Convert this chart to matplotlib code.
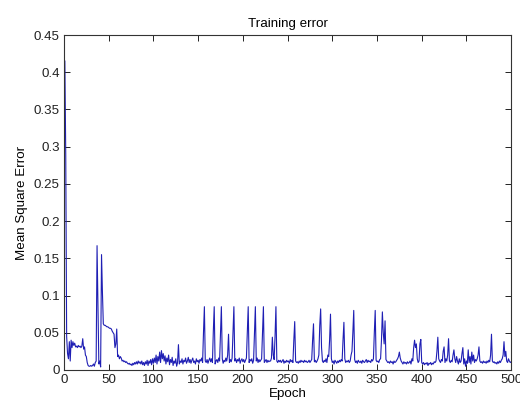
import numpy as np
import matplotlib
matplotlib.use('Agg')
import matplotlib.pyplot as plt

# training error per epoch (epochs 1..500)
mse = [
    0.415, 0.288, 0.045, 0.022, 0.015, 0.038, 0.012, 0.040, 0.030, 0.038,
    0.033, 0.036, 0.031, 0.032, 0.030, 0.033, 0.031, 0.032, 0.030, 0.032,
    0.042, 0.028, 0.031, 0.020, 0.018, 0.010, 0.006, 0.005, 0.005, 0.006,
    0.005, 0.006, 0.008, 0.005, 0.010, 0.012, 0.167, 0.085, 0.008, 0.012,
    0.004, 0.155, 0.105, 0.062, 0.060, 0.060, 0.059, 0.058, 0.058, 0.057,
    0.056, 0.056, 0.055, 0.052, 0.050, 0.048, 0.030, 0.035, 0.055, 0.018,
    0.020, 0.015, 0.018, 0.016, 0.012, 0.013, 0.011, 0.012, 0.010, 0.011,
    0.009, 0.008, 0.009, 0.007, 0.008, 0.006, 0.009, 0.007, 0.010, 0.008,
    0.011, 0.008, 0.012, 0.009, 0.011, 0.008, 0.012, 0.007, 0.010, 0.006,
    0.011, 0.008, 0.013, 0.006, 0.012, 0.009, 0.014, 0.007, 0.015, 0.009,
    0.016, 0.010, 0.020, 0.008, 0.018, 0.012, 0.024, 0.010, 0.026, 0.015,
    0.022, 0.012, 0.019, 0.008, 0.016, 0.011, 0.020, 0.007, 0.014, 0.010,
    0.017, 0.006, 0.012, 0.009, 0.015, 0.005, 0.010, 0.034, 0.008, 0.012,
    0.010, 0.015, 0.008, 0.013, 0.011, 0.016, 0.009, 0.012, 0.017, 0.010,
    0.014, 0.009, 0.013, 0.016, 0.010, 0.012, 0.008, 0.015, 0.011, 0.013,
    0.009, 0.014, 0.012, 0.016, 0.010, 0.050, 0.085, 0.012, 0.010, 0.014,
    0.009, 0.013, 0.016, 0.011, 0.015, 0.010, 0.052, 0.085, 0.008, 0.012,
    0.014, 0.010, 0.016, 0.012, 0.050, 0.085, 0.015, 0.009, 0.013, 0.011,
    0.016, 0.012, 0.020, 0.048, 0.010, 0.014, 0.011, 0.016, 0.050, 0.085,
    0.012, 0.015, 0.010, 0.014, 0.012, 0.016, 0.009, 0.013, 0.015, 0.011,
    0.014, 0.010, 0.013, 0.016, 0.050, 0.085, 0.010, 0.014, 0.012, 0.015,
    0.009, 0.013, 0.050, 0.085, 0.012, 0.016, 0.010, 0.014, 0.011, 0.013,
    0.015, 0.050, 0.085, 0.010, 0.012, 0.014, 0.010, 0.013, 0.011, 0.012,
    0.012, 0.016, 0.044, 0.020, 0.014, 0.045, 0.085, 0.012, 0.010, 0.013,
    0.011, 0.013, 0.010, 0.012, 0.014, 0.009, 0.012, 0.010, 0.013, 0.011,
    0.012, 0.009, 0.014, 0.011, 0.013, 0.010, 0.040, 0.065, 0.012, 0.010,
    0.011, 0.009, 0.012, 0.010, 0.013, 0.011, 0.012, 0.010, 0.013, 0.011,
    0.012, 0.010, 0.011, 0.013, 0.010, 0.012, 0.014, 0.040, 0.062, 0.011,
    0.013, 0.010, 0.012, 0.015, 0.020, 0.060, 0.082, 0.030, 0.012, 0.010,
    0.013, 0.011, 0.015, 0.010, 0.020, 0.018, 0.040, 0.075, 0.015, 0.010,
    0.012, 0.008, 0.013, 0.011, 0.009, 0.012, 0.010, 0.013, 0.011, 0.014,
    0.012, 0.040, 0.064, 0.015, 0.010, 0.012, 0.011, 0.013, 0.010, 0.012,
    0.020, 0.025, 0.050, 0.080, 0.014, 0.010, 0.012, 0.009, 0.013, 0.011,
    0.010, 0.012, 0.009, 0.013, 0.011, 0.010, 0.012, 0.014, 0.010, 0.013,
    0.011, 0.012, 0.010, 0.014, 0.012, 0.015, 0.050, 0.080, 0.013, 0.011,
    0.012, 0.010, 0.014, 0.015, 0.040, 0.078, 0.050, 0.035, 0.066, 0.014,
    0.012, 0.010, 0.011, 0.009, 0.012, 0.010, 0.011, 0.008, 0.012, 0.010,
    0.011, 0.013, 0.015, 0.018, 0.024, 0.016, 0.012, 0.010, 0.008, 0.011,
    0.009, 0.010, 0.008, 0.011, 0.009, 0.010, 0.012, 0.008, 0.015, 0.012,
    0.030, 0.040, 0.030, 0.035, 0.015, 0.010, 0.012, 0.035, 0.041, 0.010,
    0.008, 0.010, 0.007, 0.009, 0.008, 0.010, 0.006, 0.009, 0.008, 0.010,
    0.007, 0.009, 0.008, 0.011, 0.010, 0.012, 0.025, 0.044, 0.015, 0.012,
    0.010, 0.014, 0.012, 0.025, 0.031, 0.010, 0.015, 0.012, 0.020, 0.042,
    0.012, 0.010, 0.013, 0.011, 0.020, 0.027, 0.015, 0.010, 0.018, 0.012,
    0.008, 0.015, 0.010, 0.012, 0.022, 0.030, 0.008, 0.015, 0.005, 0.012,
    0.009, 0.027, 0.010, 0.018, 0.008, 0.024, 0.012, 0.020, 0.010, 0.014,
    0.012, 0.015, 0.020, 0.031, 0.012, 0.010, 0.011, 0.009, 0.012, 0.010,
    0.011, 0.009, 0.012, 0.010, 0.013, 0.011, 0.020, 0.048, 0.012, 0.010,
    0.011, 0.009, 0.010, 0.008, 0.011, 0.009, 0.012, 0.010, 0.013, 0.015,
    0.020, 0.038, 0.018, 0.025, 0.012, 0.010, 0.015, 0.012, 0.010, 0.011,
]
epochs = np.arange(1, len(mse) + 1)

xticks = [0, 50, 100, 150, 200, 250, 300, 350, 400, 450, 500]
yticks = [0, 0.05, 0.1, 0.15, 0.2, 0.25, 0.3, 0.35, 0.4, 0.45]
ylabels = ['0', '0.05', '0.1', '0.15', '0.2', '0.25', '0.3', '0.35', '0.4', '0.45']

plt.rcParams['font.family'] = ['Liberation Sans', 'DejaVu Sans']
fig = plt.figure(figsize=(5.2, 4.03), dpi=100)
ax = fig.add_axes([0.123, 0.082, 0.860, 0.831])

ax.plot(epochs, mse, color='#1f1fb4', linewidth=0.8)

ax.set_xlim(0, 500)
ax.set_ylim(0, 0.45)
ax.set_xticks(xticks)
ax.set_xticklabels([str(t) for t in xticks])
ax.set_yticks(yticks)
ax.set_yticklabels(ylabels)
ax.tick_params(direction='in', top=True, right=True, length=4, width=0.7,
               labelsize=9.6, pad=3, colors='#222222')
for s in ax.spines.values():
    s.set_linewidth(0.8)
    s.set_color('#333333')

ax.set_title('Training error', fontsize=9.6, pad=6)
ax.set_xlabel('Epoch', fontsize=9.6, labelpad=1)
ax.set_ylabel('Mean Square Error', fontsize=9.6, labelpad=4)

fig.savefig('out.png', dpi=100, facecolor='white')
